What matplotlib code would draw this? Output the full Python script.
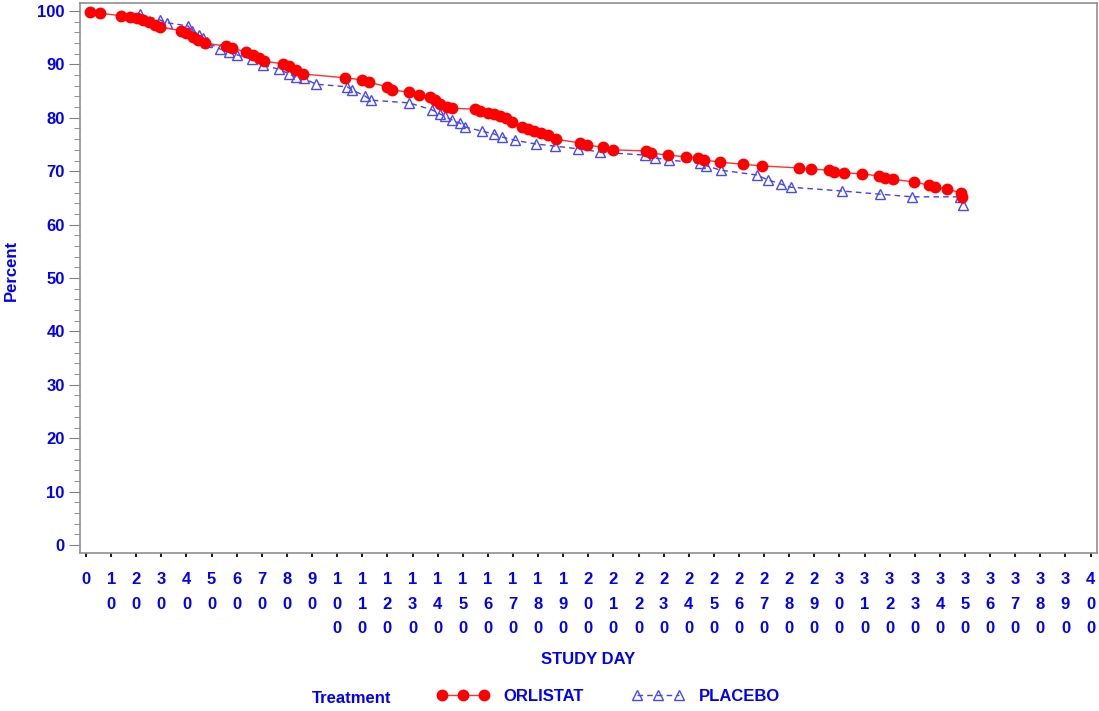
import matplotlib
matplotlib.use('Agg')
import matplotlib.pyplot as plt
from matplotlib.ticker import MultipleLocator

plt.rcParams['font.family'] = ['Liberation Sans', 'DejaVu Sans']
plt.rcParams['font.weight'] = 'bold'

BLUE_TXT = '#0000ff'

# ORLISTAT
orl_day = [1.6, 5.6, 14, 17.5, 20.3, 22.7, 25, 27.5, 29.5, 38, 40, 42.6, 44.6, 47.4,
           55.7, 58, 63.7, 66.5, 69, 71, 78.4, 81, 83.6, 86.4, 103, 110, 112.6, 119.8,
           122, 128.6, 132.5, 137, 138.9, 141, 143.7, 145.7, 155, 157, 160, 162.4,
           164.8, 167.2, 169.6, 173.5, 175.9, 178.3, 181, 184, 187, 196.6, 199.4,
           205.8, 210, 223, 225, 231.6, 239, 243.6, 246, 252.3, 261.5, 269, 284,
           288.6, 295.7, 298, 302, 309, 315.6, 318, 321.2, 329.5, 335.5, 338, 343,
           348.3, 349]
orl_pct = [99.8, 99.6, 99.1, 98.9, 98.7, 98.3, 97.9, 97.4, 97.0, 96.3, 95.9, 95.1, 94.6, 94.0,
           93.4, 93.1, 92.3, 91.8, 91.2, 90.6, 90.1, 89.7, 89.0, 88.2, 87.5, 87.1, 86.7, 85.8,
           85.2, 84.8, 84.3, 83.9, 83.3, 82.6, 82.0, 81.8, 81.6, 81.3, 80.9, 80.7,
           80.3, 80.0, 79.2, 78.3, 77.9, 77.5, 77.2, 76.8, 76.0, 75.3, 74.9,
           74.5, 74.0, 73.8, 73.4, 73.0, 72.7, 72.5, 72.1, 71.7, 71.3, 71.0, 70.6,
           70.4, 70.2, 69.8, 69.7, 69.5, 69.1, 68.7, 68.5, 68.0, 67.4, 67.0, 66.7,
           65.9, 65.2]

# PLACEBO
pla_day = [21.5, 29.5, 32.2, 40.6, 42.2, 45, 46.6, 48, 53.3, 57, 60, 66, 70.4, 76.8,
           81, 83.6, 86.8, 91.5, 104, 106, 111, 113.4, 128.6, 137.7, 141, 142.9, 145.7,
           148.9, 150.8, 157.6, 162.4, 165.6, 170.7, 179, 186.6, 195.8, 204.6, 222.5,
           226.4, 232, 244.4, 247, 252.7, 267, 271.4, 276.6, 280.6, 300.9, 316, 329,
           348, 349.4]
pla_pct = [99.4, 98.3, 97.8, 97.2, 96.3, 95.5, 94.9, 94.2, 92.9, 92.3, 91.8, 91.0, 89.9, 89.1,
           88.2, 87.6, 87.4, 86.3, 85.8, 85.2, 84.1, 83.3, 82.8, 81.5, 80.7, 80.3, 79.6,
           79.0, 78.3, 77.5, 77.0, 76.4, 75.8, 75.1, 74.7, 74.2, 73.6, 73.0,
           72.5, 72.1, 71.5, 71.0, 70.2, 69.3, 68.4, 67.6, 67.0, 66.3, 65.7, 65.2,
           65.2, 63.7]

x_ticks = list(range(0, 401, 10))
y_ticks = list(range(0, 101, 10))

fig = plt.figure(figsize=(10.99, 7.11), dpi=100)
ax = fig.add_axes([0.0728, 0.2222, 0.925, 0.7736])

ax.plot(orl_day, orl_pct, color='#ff3030', lw=1, marker='o', ms=7.5,
        mfc='#ff0000', mec='#ff0000', label='ORLISTAT', zorder=3)
ax.plot(pla_day, pla_pct, color='#4040ff', lw=1, ls=(0, (4, 3)), marker='^', ms=7.5,
        mfc='none', mec='#4848ff', mew=1, label='PLACEBO', zorder=2)

ax.set_xlim(-2.4, 402.4)
ax.set_ylim(-1.5, 101.5)
ax.set_xticks(x_ticks)
ax.set_xticklabels(['\n'.join(str(v)) for v in x_ticks], linespacing=1.77, va='top')
ax.set_yticks(y_ticks)
ax.yaxis.set_minor_locator(MultipleLocator(2))
ax.tick_params(axis='y', which='major', length=8, color='#808080', labelsize=12,
               labelcolor=BLUE_TXT, pad=3)
ax.tick_params(axis='y', which='minor', length=4, color='#808080')
ax.tick_params(axis='x', which='major', length=3, width=1.5, color='#202020',
               labelsize=12, labelcolor=BLUE_TXT, pad=11)
for lab in ax.get_xticklabels() + ax.get_yticklabels():
    lab.set_fontweight('bold')

for s in ax.spines.values():
    s.set_color('#909090')
    s.set_linewidth(1.2)

fig.text(0.010, 0.62, 'Percent', color=BLUE_TXT, fontsize=12, fontweight='bold',
         rotation=90, ha='center', va='center')
fig.text(0.535, 0.073, 'STUDY DAY', color=BLUE_TXT, fontsize=12, fontweight='bold',
         ha='center', va='center')
fig.text(0.320, 0.018, 'Treatment', color=BLUE_TXT, fontsize=12, fontweight='bold',
         ha='center', va='center')

h, l = ax.get_legend_handles_labels()
leg = fig.legend(h, l, loc='center left', bbox_to_anchor=(0.384, 0.02), ncol=2,
                 frameon=False, numpoints=3, handlelength=3.1, columnspacing=2.9,
                 handletextpad=0.9, prop={'size': 12, 'weight': 'bold'})
for t in leg.get_texts():
    t.set_color(BLUE_TXT)

fig.savefig('out.png', dpi=100)
